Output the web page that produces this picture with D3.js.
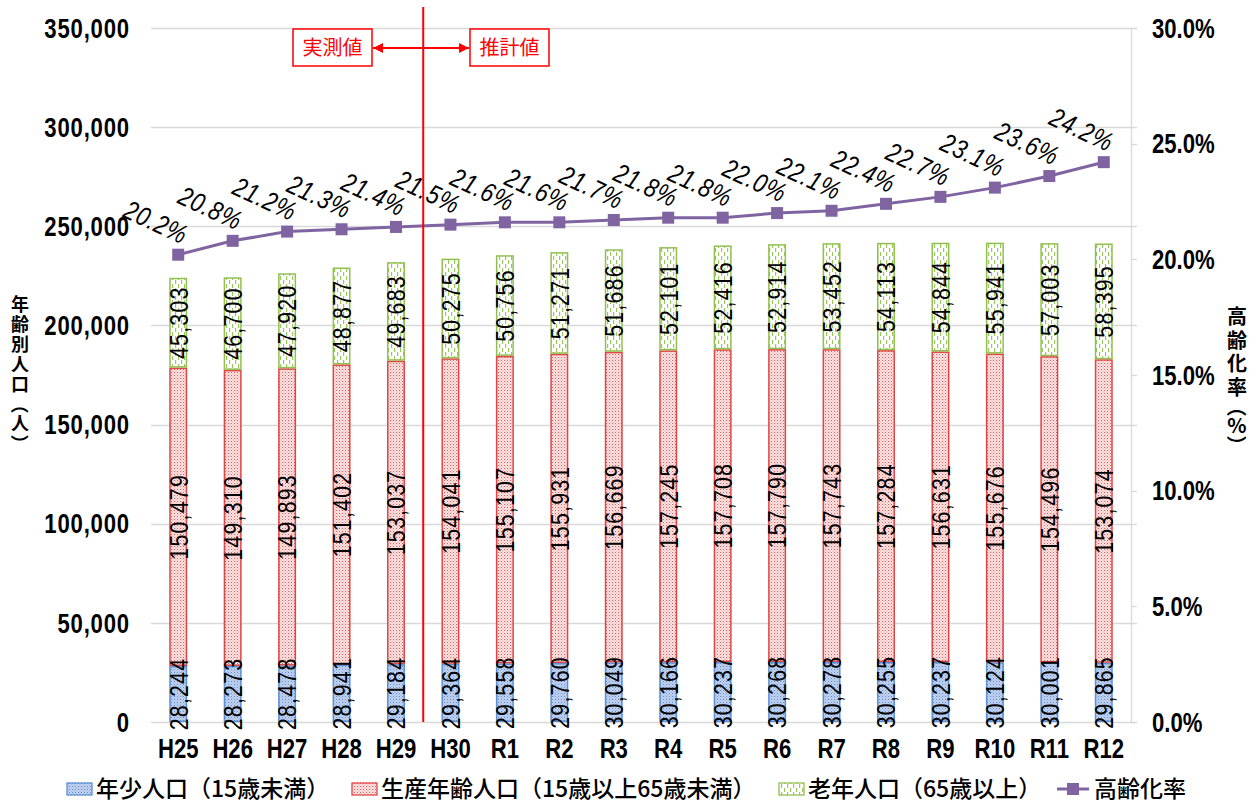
<!DOCTYPE html>
<html>
<head>
<meta charset="utf-8">
<script src="https://cdn.jsdelivr.net/npm/d3@7/dist/d3.min.js"></script>
<style>
  body { margin: 0; background: #fff; }
  svg { display: block; }
  .num { font-family: "Liberation Sans", Arial, sans-serif; fill: #000; }
  .jp { font-family: "Noto Sans CJK JP", sans-serif; }
</style>
</head>
<body>
<svg id="chart" width="1258" height="805"></svg>
<script>
const categories = ["H25", "H26", "H27", "H28", "H29", "H30", "R1", "R2", "R3", "R4", "R5", "R6", "R7", "R8", "R9", "R10", "R11", "R12"];
const youngPop = [28244, 28273, 28478, 28941, 29184, 29364, 29558, 29760, 30049, 30166, 30237, 30268, 30278, 30255, 30237, 30124, 30001, 29865];
const workingPop = [150479, 149310, 149893, 151402, 153037, 154041, 155107, 155931, 156669, 157245, 157708, 157790, 157743, 157284, 156631, 155676, 154496, 153074];
const elderlyPop = [45303, 46700, 47920, 48877, 49683, 50275, 50756, 51271, 51686, 52101, 52416, 52914, 53452, 54113, 54844, 55941, 57003, 58395];
const agingRate = [20.2, 20.8, 21.2, 21.3, 21.4, 21.5, 21.6, 21.6, 21.7, 21.8, 21.8, 22.0, 22.1, 22.4, 22.7, 23.1, 23.6, 24.2];
const leftTicks = [0, 50000, 100000, 150000, 200000, 250000, 300000, 350000];
const rightTicks = [0, 5, 10, 15, 20, 25, 30];
const seriesNames = ["年少人口（15歳未満）", "生産年齢人口（15歳以上65歳未満）", "老年人口（65歳以上）", "高齢化率"];

const svg = d3.select("#chart");
const plot = { left: 151, right: 1131, top: 28, bottom: 722 };
const narrow = 0.82; // squeeze Liberation Sans to look like a narrow face

const x = d3.scaleBand()
    .domain(categories)
    .range([plot.left, plot.right])
    .paddingInner(0.67)
    .paddingOuter(0.335);

const y = d3.scaleLinear().domain([0, 350000]).range([plot.bottom, plot.top]);
const y2 = d3.scaleLinear().domain([0, 30]).range([plot.bottom, plot.top]);

// patterns
const defs = svg.append("defs");
const pBlue = defs.append("pattern").attr("id", "pBlue").attr("patternUnits", "userSpaceOnUse").attr("width", 3).attr("height", 3);
pBlue.append("rect").attr("width", 3).attr("height", 3).attr("fill", "#c3d4f0");
pBlue.append("rect").attr("width", 1).attr("height", 1).attr("fill", "#5f8ad0");
pBlue.append("rect").attr("x", 1.5).attr("y", 1.5).attr("width", 1).attr("height", 1).attr("fill", "#7fa2dc");

const pRed = defs.append("pattern").attr("id", "pRed").attr("patternUnits", "userSpaceOnUse").attr("width", 3).attr("height", 3);
pRed.append("rect").attr("width", 3).attr("height", 3).attr("fill", "#fbe4e4");
pRed.append("rect").attr("width", 1).attr("height", 1).attr("fill", "#e05a5a");
pRed.append("rect").attr("x", 1.5).attr("y", 1.5).attr("width", 1).attr("height", 1).attr("fill", "#ec9090");

const pGreen = defs.append("pattern").attr("id", "pGreen").attr("patternUnits", "userSpaceOnUse").attr("width", 6).attr("height", 8);
pGreen.append("rect").attr("width", 6).attr("height", 8).attr("fill", "#ffffff");
pGreen.append("rect").attr("x", 1).attr("y", 0).attr("width", 1.2).attr("height", 4).attr("fill", "#9cc763");
pGreen.append("rect").attr("x", 4).attr("y", 4).attr("width", 1.2).attr("height", 4).attr("fill", "#9cc763");

// gridlines
svg.append("g")
    .selectAll("line")
    .data(leftTicks)
    .enter()
    .append("line")
    .attr("x1", plot.left)
    .attr("x2", plot.right + 6)
    .attr("y1", d => Math.round(y(d)) + 0.5)
    .attr("y2", d => Math.round(y(d)) + 0.5)
    .attr("stroke", "#d9d9d9")
    .attr("stroke-width", 1.3);

// right axis line + ticks
svg.append("line")
    .attr("x1", plot.right + 0.5).attr("x2", plot.right + 0.5)
    .attr("y1", plot.top).attr("y2", plot.bottom)
    .attr("stroke", "#d9d9d9").attr("stroke-width", 1.3);
svg.append("g")
    .selectAll("line")
    .data(rightTicks)
    .enter()
    .append("line")
    .attr("x1", plot.right)
    .attr("x2", plot.right + 6)
    .attr("y1", d => Math.round(y2(d)) + 0.5)
    .attr("y2", d => Math.round(y2(d)) + 0.5)
    .attr("stroke", "#d9d9d9").attr("stroke-width", 1.3);

// left tick labels
svg.append("g")
    .selectAll("text")
    .data(leftTicks)
    .enter()
    .append("text")
    .attr("class", "num")
    .attr("transform", d => `translate(130,${y(d)}) scale(${narrow},1)`)
    .attr("dy", "0.36em")
    .attr("text-anchor", "end")
    .style("font-size", "27px")
    .style("font-weight", "bold")
    .style("letter-spacing", "1px")
    .text(d => d3.format(",")(d));

// right tick labels
svg.append("g")
    .selectAll("text")
    .data(rightTicks)
    .enter()
    .append("text")
    .attr("class", "num")
    .attr("transform", d => `translate(1152,${y2(d)}) scale(${narrow},1)`)
    .attr("dy", "0.36em")
    .style("font-size", "27px")
    .style("font-weight", "bold")
    .text(d => d.toFixed(1) + "%");

// category labels
svg.append("g")
    .selectAll("text")
    .data(categories)
    .enter()
    .append("text")
    .attr("class", "num")
    .attr("transform", d => `translate(${x(d) + x.bandwidth() / 2},758) scale(${narrow},1)`)
    .attr("text-anchor", "middle")
    .style("font-size", "27px")
    .style("font-weight", "bold")
    .text(d => d);

// stacked bars
const rows = categories.map((c, i) => ({ cat: c, young: youngPop[i], working: workingPop[i], elderly: elderlyPop[i] }));
const keys = ["young", "working", "elderly"];
const fills = { young: "url(#pBlue)", working: "url(#pRed)", elderly: "url(#pGreen)" };
const strokes = { young: "#5b8fd6", working: "#e04646", elderly: "#92c050" };
const stacked = d3.stack().keys(keys)(rows);
const segments = stacked.flatMap(s => s.map(v => ({ key: s.key, v })));

svg.append("g")
    .selectAll("rect")
    .data(segments)
    .enter()
    .append("rect")
    .attr("x", d => x(d.v.data.cat) + 0.75)
    .attr("width", x.bandwidth() - 1.5)
    .attr("y", d => y(d.v[1]) + 0.75)
    .attr("height", d => y(d.v[0]) - y(d.v[1]) - 1.5)
    .attr("fill", d => fills[d.key])
    .attr("stroke", d => strokes[d.key])
    .attr("stroke-width", 1.5);

svg.append("g")
    .selectAll("text")
    .data(segments)
    .enter()
    .append("text")
    .attr("class", "num")
    .attr("text-anchor", "middle")
    .attr("dy", "0.36em")
    .style("font-size", "26px")
    .style("letter-spacing", "1.5px")
    .attr("transform", d => {
        const cx = x(d.v.data.cat) + x.bandwidth() / 2;
        const cy = (y(d.v[0]) + y(d.v[1])) / 2;
        return `translate(${cx},${cy}) rotate(-90) scale(${narrow},1)`;
    })
    .text(d => d3.format(",")(d.v.data[d.key]));

// aging rate line
const line = d3.line()
    .x((d, i) => x(categories[i]) + x.bandwidth() / 2)
    .y(d => y2(d));

svg.append("path")
    .datum(agingRate)
    .attr("fill", "none")
    .attr("stroke", "#8064a2")
    .attr("stroke-width", 3)
    .attr("d", line);

svg.append("g")
    .selectAll("rect")
    .data(agingRate)
    .enter()
    .append("rect")
    .attr("x", (d, i) => x(categories[i]) + x.bandwidth() / 2 - 6)
    .attr("y", d => y2(d) - 6)
    .attr("width", 12)
    .attr("height", 12)
    .attr("fill", "#8064a2");

svg.append("g")
    .selectAll("text")
    .data(agingRate)
    .enter()
    .append("text")
    .attr("class", "num")
    .attr("text-anchor", "middle")
    .attr("dy", "0.36em")
    .style("font-size", "27px")
    .style("font-style", "italic")
    .style("letter-spacing", "1px")
    .attr("transform", (d, i) => {
        const cx = x(categories[i]) + x.bandwidth() / 2 - 22;
        const cy = y2(d) - 33;
        return `translate(${cx},${cy}) rotate(25) scale(${narrow},1)`;
    })
    .text(d => d.toFixed(1) + "%");

// boundary between measured and estimated values
const splitX = (x("H29") + x("H30") + x.bandwidth()) / 2;
svg.append("line")
    .attr("x1", splitX).attr("x2", splitX)
    .attr("y1", 7).attr("y2", plot.bottom)
    .attr("stroke", "#ff0000").attr("stroke-width", 2);

defs.append("marker")
    .attr("id", "arrow")
    .attr("viewBox", "0 0 10 10")
    .attr("refX", 10).attr("refY", 5)
    .attr("markerWidth", 5).attr("markerHeight", 5)
    .attr("orient", "auto-start-reverse")
    .append("path")
    .attr("d", "M0,0 L10,5 L0,10 Z")
    .attr("fill", "#ff0000");

svg.append("line")
    .attr("x1", 373).attr("x2", 469)
    .attr("y1", 48).attr("y2", 48)
    .attr("stroke", "#ff0000").attr("stroke-width", 2)
    .attr("marker-start", "url(#arrow)")
    .attr("marker-end", "url(#arrow)");

const boxes = [{ label: "実測値", x: 293 }, { label: "推計値", x: 470 }];
boxes.forEach(b => {
    svg.append("rect")
        .attr("x", b.x).attr("y", 29)
        .attr("width", 79).attr("height", 37)
        .attr("fill", "#fff")
        .attr("stroke", "#ff0000").attr("stroke-width", 1.5);
    svg.append("text")
        .attr("class", "jp")
        .attr("x", b.x + 39.5).attr("y", 48)
        .attr("dy", "0.36em")
        .attr("text-anchor", "middle")
        .attr("fill", "#ff0000")
        .style("font-size", "20px")
        .text(b.label);
});

// vertical axis titles: one text, one tspan per glyph, brackets turned
function verticalTitle(str, cx, top, size, step, bracketStep) {
    const t = svg.append("text")
        .attr("class", "jp")
        .attr("text-anchor", "middle")
        .style("font-size", size + "px")
        .style("font-weight", "bold");
    let cy = top;
    Array.from(str).forEach((ch, i) => {
        const isBracket = ch === "（" || ch === "）";
        const s = isBracket ? bracketStep : step;
        if (i > 0) cy += s / 2;
        if (isBracket) {
            t.append("tspan")
                .attr("x", cx + 0.12 * size)
                .attr("y", cy - 0.5 * size)
                .attr("rotate", 90)
                .text(ch);
        } else {
            t.append("tspan")
                .attr("x", cx)
                .attr("y", cy + 0.36 * size)
                .text(ch);
        }
        cy += s / 2;
    });
}
verticalTitle("年齢別人口（人）", 20, 305, 18, 20, 19);
verticalTitle("高齢化率（%）", 1237, 317, 20, 23.5, 15);

// legend
const legendItems = [
    { name: seriesNames[0], sx: 67, tx: 96, type: "young" },
    { name: seriesNames[1], sx: 352, tx: 381, type: "working" },
    { name: seriesNames[2], sx: 779, tx: 808, type: "elderly" },
    { name: seriesNames[3], sx: 1057, tx: 1094, type: "line" }
];
const legend = svg.append("g");
legendItems.forEach(it => {
    if (it.type === "line") {
        legend.append("line")
            .attr("x1", it.sx).attr("x2", it.sx + 32)
            .attr("y1", 789).attr("y2", 789)
            .attr("stroke", "#8064a2").attr("stroke-width", 3);
        legend.append("rect")
            .attr("x", it.sx + 10).attr("y", 783)
            .attr("width", 12).attr("height", 12)
            .attr("fill", "#8064a2");
    } else {
        legend.append("rect")
            .attr("x", it.sx).attr("y", 783)
            .attr("width", 25).attr("height", 12)
            .attr("fill", fills[it.type])
            .attr("stroke", strokes[it.type]).attr("stroke-width", 1.3);
    }
    legend.append("text")
        .attr("class", "jp")
        .attr("x", it.tx).attr("y", 789)
        .attr("dy", "0.36em")
        .style("font-size", "23px")
        .style("font-weight", "500")
        .text(it.name);
});
</script>
</body>
</html>
